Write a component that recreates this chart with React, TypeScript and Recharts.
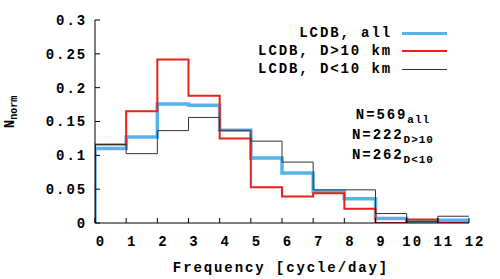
import React from 'react';
import { LineChart, Line, XAxis, YAxis } from 'recharts';

// bin edges (cycle/day) and normalised counts per bin
const binEdges = [0, 1, 2, 3, 4, 5, 6, 7, 8, 9, 10, 11, 12];
const allCounts = [0.110, 0.127, 0.176, 0.174, 0.137, 0.096, 0.074, 0.047, 0.036, 0.0065, 0.003, 0.004];
const bigCounts = [0.116, 0.165, 0.2415, 0.188, 0.125, 0.053, 0.039, 0.044, 0.021, 0, 0.005, 0];
const smallCounts = [0.116, 0.1025, 0.1365, 0.156, 0.137, 0.121, 0.090, 0.049, 0.049, 0.014, 0.002, 0.010];
const yTicks = [0, 0.05, 0.1, 0.15, 0.2, 0.25, 0.3];

const series = [
    { key: 'all', name: 'LCDB, all', color: '#56b4e9', width: 3.5 },
    { key: 'big', name: 'LCDB, D>10 km', color: '#e8221a', width: 2 },
    { key: 'small', name: 'LCDB, D<10 km', color: '#333333', width: 1 },
];

const notes = [
    { n: '569', sub: 'all' },
    { n: '222', sub: 'D>10' },
    { n: '262', sub: 'D<10' },
];

// step data: start at baseline, last edge repeats last bin for stepAfter
const last = allCounts.length - 1;
const data = [
    { x: 0, all: 0, big: 0, small: 0 },
    ...binEdges.map((x, i) => ({
        x,
        all: allCounts[Math.min(i, last)],
        big: bigCounts[Math.min(i, last)],
        small: smallCounts[Math.min(i, last)],
    })),
];

const font = "'Liberation Mono', 'Courier New', monospace";
const ls = 1.9;
const tickStyle = { fill: '#000', fontSize: 14, fontWeight: 700, fontFamily: font, letterSpacing: ls };

export default function App() {
    return (
        <div style={{ position: 'absolute', left: 0, top: 0, width: 500, height: 279, background: '#fff', fontFamily: font, fontWeight: 700, color: '#000' }}>
            <LineChart width={500} height={279} data={data} margin={{ top: 20, right: 31, left: 45, bottom: 26 }}>
                <XAxis
                    xAxisId="b"
                    dataKey="x"
                    type="number"
                    domain={[0, 12]}
                    ticks={binEdges}
                    allowDataOverflow
                    height={30}
                    stroke="#000"
                    tickSize={-5}
                    tickMargin={18}
                    tick={{ ...tickStyle, dx: 6 }}
                />
                <XAxis
                    xAxisId="t"
                    orientation="top"
                    dataKey="x"
                    type="number"
                    domain={[0, 12]}
                    ticks={binEdges}
                    allowDataOverflow
                    height={0}
                    stroke="#000"
                    tickSize={-5}
                    tick={false}
                />
                <YAxis
                    yAxisId="l"
                    type="number"
                    domain={[0, 0.3]}
                    ticks={yTicks}
                    allowDataOverflow
                    width={50}
                    stroke="#000"
                    tickSize={-5}
                    tickMargin={13}
                    tick={tickStyle}
                />
                <YAxis
                    yAxisId="r"
                    orientation="right"
                    type="number"
                    domain={[0, 0.3]}
                    ticks={yTicks}
                    allowDataOverflow
                    width={0}
                    stroke="#000"
                    tickSize={-5}
                    tick={false}
                />
                {series.map(s => (
                    <Line
                        key={s.key}
                        xAxisId="b"
                        yAxisId="l"
                        type="stepAfter"
                        dataKey={s.key}
                        name={s.name}
                        stroke={s.color}
                        strokeWidth={s.width}
                        dot={false}
                        activeDot={false}
                        isAnimationActive={false}
                    />
                ))}
            </LineChart>

            {/* legend */}
            {series.map((s, i) => (
                <div key={s.key} style={{ position: 'absolute', top: 24 + i * 18, left: 200, width: 250, height: 18, display: 'flex', alignItems: 'center', justifyContent: 'flex-end', fontSize: 14, letterSpacing: ls }}>
                    <span>{s.name}</span>
                    <span style={{ display: 'inline-block', width: 45, height: 0, borderTop: `${s.width}px solid ${s.color}`, marginLeft: 10, marginRight: 3 }} />
                </div>
            ))}

            {/* counts */}
            {notes.map((t, i) => (
                <div key={t.n} style={{ position: 'absolute', top: 106 + i * 20, left: 323, width: 140, textAlign: 'center', fontSize: 14, letterSpacing: ls, lineHeight: '18px', whiteSpace: 'nowrap' }}>
                    N={t.n}<sub style={{ fontSize: 11, letterSpacing: 1, verticalAlign: -4 }}>{t.sub}</sub>
                </div>
            ))}

            {/* axis titles */}
            <div style={{ position: 'absolute', left: 281, top: 260, transform: 'translateX(-50%)', fontSize: 14, letterSpacing: ls, whiteSpace: 'nowrap' }}>
                Frequency [cycle/day]
            </div>
            <div style={{ position: 'absolute', left: 12, top: 112, transform: 'translate(-50%, -50%) rotate(-90deg)', fontSize: 14, whiteSpace: 'nowrap', lineHeight: '18px' }}>
                N<sub style={{ fontSize: 10, verticalAlign: -3 }}>norm</sub>
            </div>
        </div>
    );
}
